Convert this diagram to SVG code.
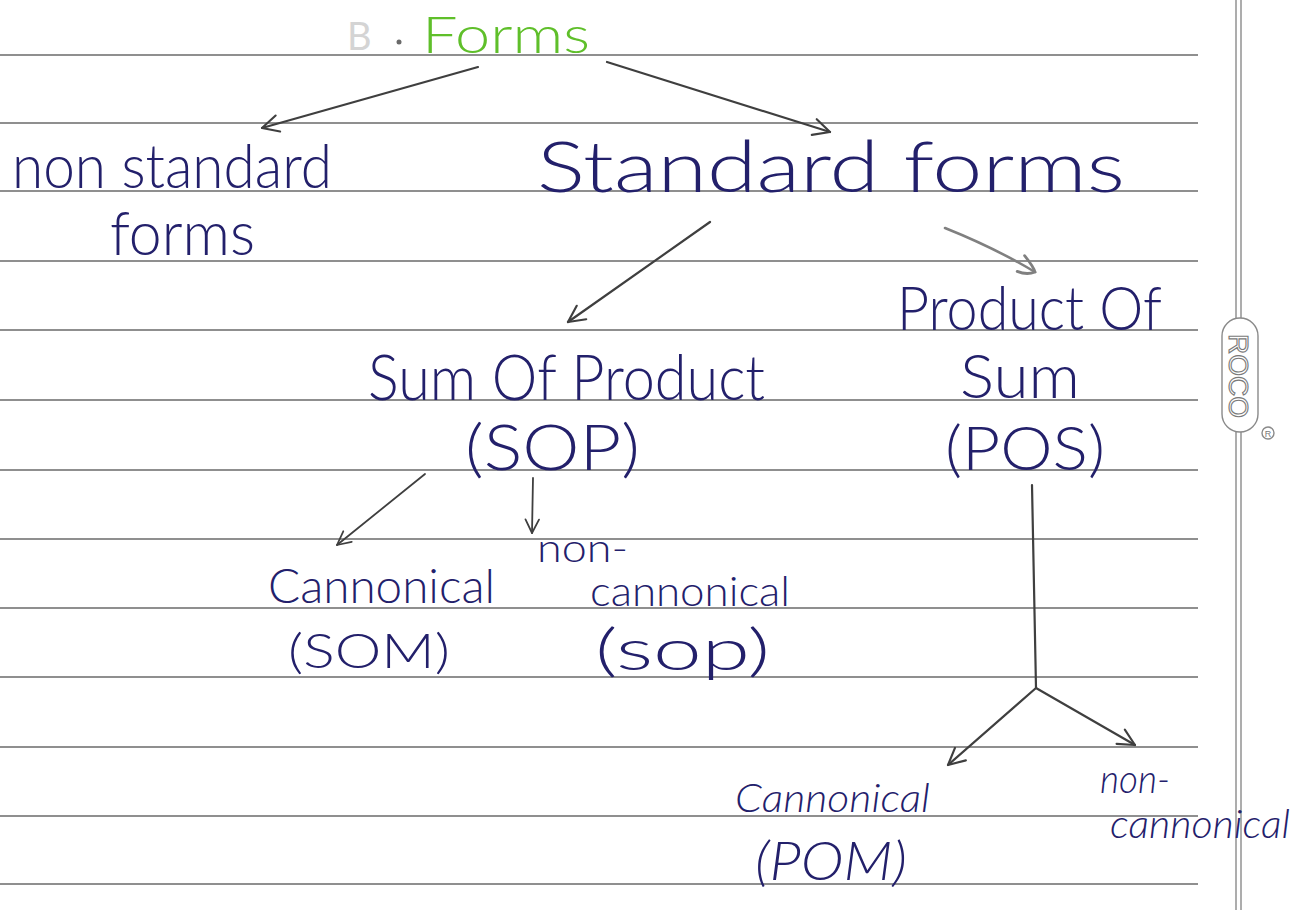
<svg xmlns="http://www.w3.org/2000/svg" width="1304" height="910" viewBox="0 0 1304 910">
<style>
.rule{stroke:#6a6a6a;stroke-width:1.6}
.ink{font-family:Lato,"Open Sans","DejaVu Sans",sans-serif;font-weight:300;fill:#23206b}
.big{font-size:62px}
.mid{font-size:48px}
.sm{font-size:40px;font-style:italic}
.arrow{stroke:#3f3f3f;stroke-width:2.2;fill:none;stroke-linecap:round}
.margin{stroke:#8a8a8a;stroke-width:1.4;fill:none}
</style>
<defs>
<marker id="ah" viewBox="0 0 12 12" refX="11" refY="6" markerWidth="9" markerHeight="9" orient="auto" markerUnits="strokeWidth">
<path d="M1,1 L11,6 L1,11" fill="none" stroke="#3f3f3f" stroke-width="1.3" stroke-linecap="round" stroke-linejoin="round"/>
</marker>
<marker id="ahg" viewBox="0 0 12 12" refX="11" refY="6" markerWidth="8" markerHeight="8" orient="auto" markerUnits="strokeWidth">
<path d="M1,1 Q9,4 11,6 Q8,10 2,11" fill="none" stroke="#808080" stroke-width="1.6" stroke-linecap="round"/>
</marker>
</defs>
<rect width="1304" height="910" fill="#ffffff"/>
<g id="paper">
<g class="rule">
<line x1="0" y1="55" x2="1198" y2="55"/>
<line x1="0" y1="123" x2="1198" y2="123"/>
<line x1="0" y1="191" x2="1198" y2="191"/>
<line x1="0" y1="261" x2="1198" y2="261"/>
<line x1="0" y1="330" x2="1198" y2="330"/>
<line x1="0" y1="400" x2="1198" y2="400"/>
<line x1="0" y1="470" x2="1198" y2="470"/>
<line x1="0" y1="539" x2="1198" y2="539"/>
<line x1="0" y1="608" x2="1198" y2="608"/>
<line x1="0" y1="677" x2="1198" y2="677"/>
<line x1="0" y1="747" x2="1198" y2="747"/>
<line x1="0" y1="816" x2="1198" y2="816"/>
<line x1="0" y1="884" x2="1198" y2="884"/>
</g>
<g class="margin">
<line x1="1236" y1="0" x2="1236" y2="318"/>
<line x1="1241" y1="0" x2="1241" y2="318"/>
<line x1="1236" y1="432" x2="1236" y2="910"/>
<line x1="1241" y1="432" x2="1241" y2="910"/>
<rect x="1222" y="318" width="36" height="114" rx="18"/>
<circle cx="1268" cy="433" r="6"/>
</g>
<text x="1229" y="334" transform="rotate(90 1229 334)" font-family="'Liberation Sans',sans-serif" font-size="28" fill="#ffffff" stroke="#7a7a7a" stroke-width="1.1" textLength="84" lengthAdjust="spacingAndGlyphs">ROCO</text>
<text x="1268" y="437" text-anchor="middle" font-family="'Liberation Sans',sans-serif" font-size="9" fill="#7a7a7a">R</text>
</g>
<g id="connectors">
<line class="arrow" x1="478" y1="67" x2="262" y2="128" marker-end="url(#ah)"/>
<line class="arrow" x1="607" y1="62" x2="830" y2="132" marker-end="url(#ah)"/>
<line class="arrow" x1="710" y1="222" x2="568" y2="322" marker-end="url(#ah)"/>
<path d="M945,228 Q995,248 1035,272" stroke="#808080" stroke-width="2.6" fill="none" stroke-linecap="round" marker-end="url(#ahg)"/>
<line class="arrow" x1="425" y1="474" x2="337" y2="545" marker-end="url(#ah)" style="stroke-width:1.8"/>
<line class="arrow" x1="533" y1="478" x2="532" y2="533" marker-end="url(#ah)" style="stroke-width:1.8"/>
<line class="arrow" x1="1032" y1="485" x2="1036" y2="688"/>
<line class="arrow" x1="1036" y1="688" x2="948" y2="765" marker-end="url(#ah)"/>
<line class="arrow" x1="1036" y1="688" x2="1135" y2="745" marker-end="url(#ah)"/>
</g>
<g id="forms">
<text x="347" y="50" font-family="Lato,sans-serif" font-size="38" fill="#b8b8b8" opacity="0.6">B</text>
<circle cx="399" cy="42" r="2.5" fill="#6a6a6a"/>
<text x="422" y="53" font-family="Lato,'Open Sans',sans-serif" font-weight="300" font-size="52" fill="#5fbf2a" textLength="168" lengthAdjust="spacingAndGlyphs">Forms</text>
</g>
<g id="non-standard">
<text class="ink big" x="12" y="188" textLength="320" lengthAdjust="spacingAndGlyphs">non standard</text>
<text class="ink big" x="110" y="255" textLength="145" lengthAdjust="spacingAndGlyphs">forms</text>
</g>
<g id="standard">
<text class="ink" x="537" y="192" font-size="70" textLength="588" lengthAdjust="spacingAndGlyphs">Standard forms</text>
</g>
<g id="pos">
<text class="ink big" x="897" y="330" textLength="265" lengthAdjust="spacingAndGlyphs">Product Of</text>
<text class="ink big" x="960" y="398" textLength="120" lengthAdjust="spacingAndGlyphs">Sum</text>
<text class="ink big" x="945" y="470" textLength="160" lengthAdjust="spacingAndGlyphs">(POS)</text>
</g>
<g id="sop">
<text class="ink" x="368" y="400" font-size="64" textLength="397" lengthAdjust="spacingAndGlyphs">Sum Of Product</text>
<text class="ink" x="465" y="470" font-size="64" textLength="175" lengthAdjust="spacingAndGlyphs">(SOP)</text>
</g>
<g id="sop-canonical">
<text class="ink mid" x="268" y="603" textLength="227" lengthAdjust="spacingAndGlyphs">Cannonical</text>
<text class="ink mid" x="288" y="668" textLength="162" lengthAdjust="spacingAndGlyphs">(SOM)</text>
</g>
<g id="sop-noncanonical">
<text class="ink" x="537" y="562" font-size="40" textLength="91" lengthAdjust="spacingAndGlyphs">non-</text>
<text class="ink" x="590" y="606" font-size="42" textLength="200" lengthAdjust="spacingAndGlyphs">cannonical</text>
<text class="ink" x="595" y="670" font-size="58" textLength="175" lengthAdjust="spacingAndGlyphs">(sop)</text>
</g>
<g id="pos-canonical">
<text class="ink sm" x="735" y="812" textLength="195" lengthAdjust="spacingAndGlyphs">Cannonical</text>
<text class="ink" x="755" y="880" font-size="54" font-style="italic" textLength="152" lengthAdjust="spacingAndGlyphs">(POM)</text>
</g>
<g id="pos-noncanonical">
<text class="ink sm" x="1100" y="793" textLength="70" lengthAdjust="spacingAndGlyphs">non-</text>
<text class="ink sm" x="1110" y="838" textLength="180" lengthAdjust="spacingAndGlyphs">cannonical</text>
</g>
</svg>
